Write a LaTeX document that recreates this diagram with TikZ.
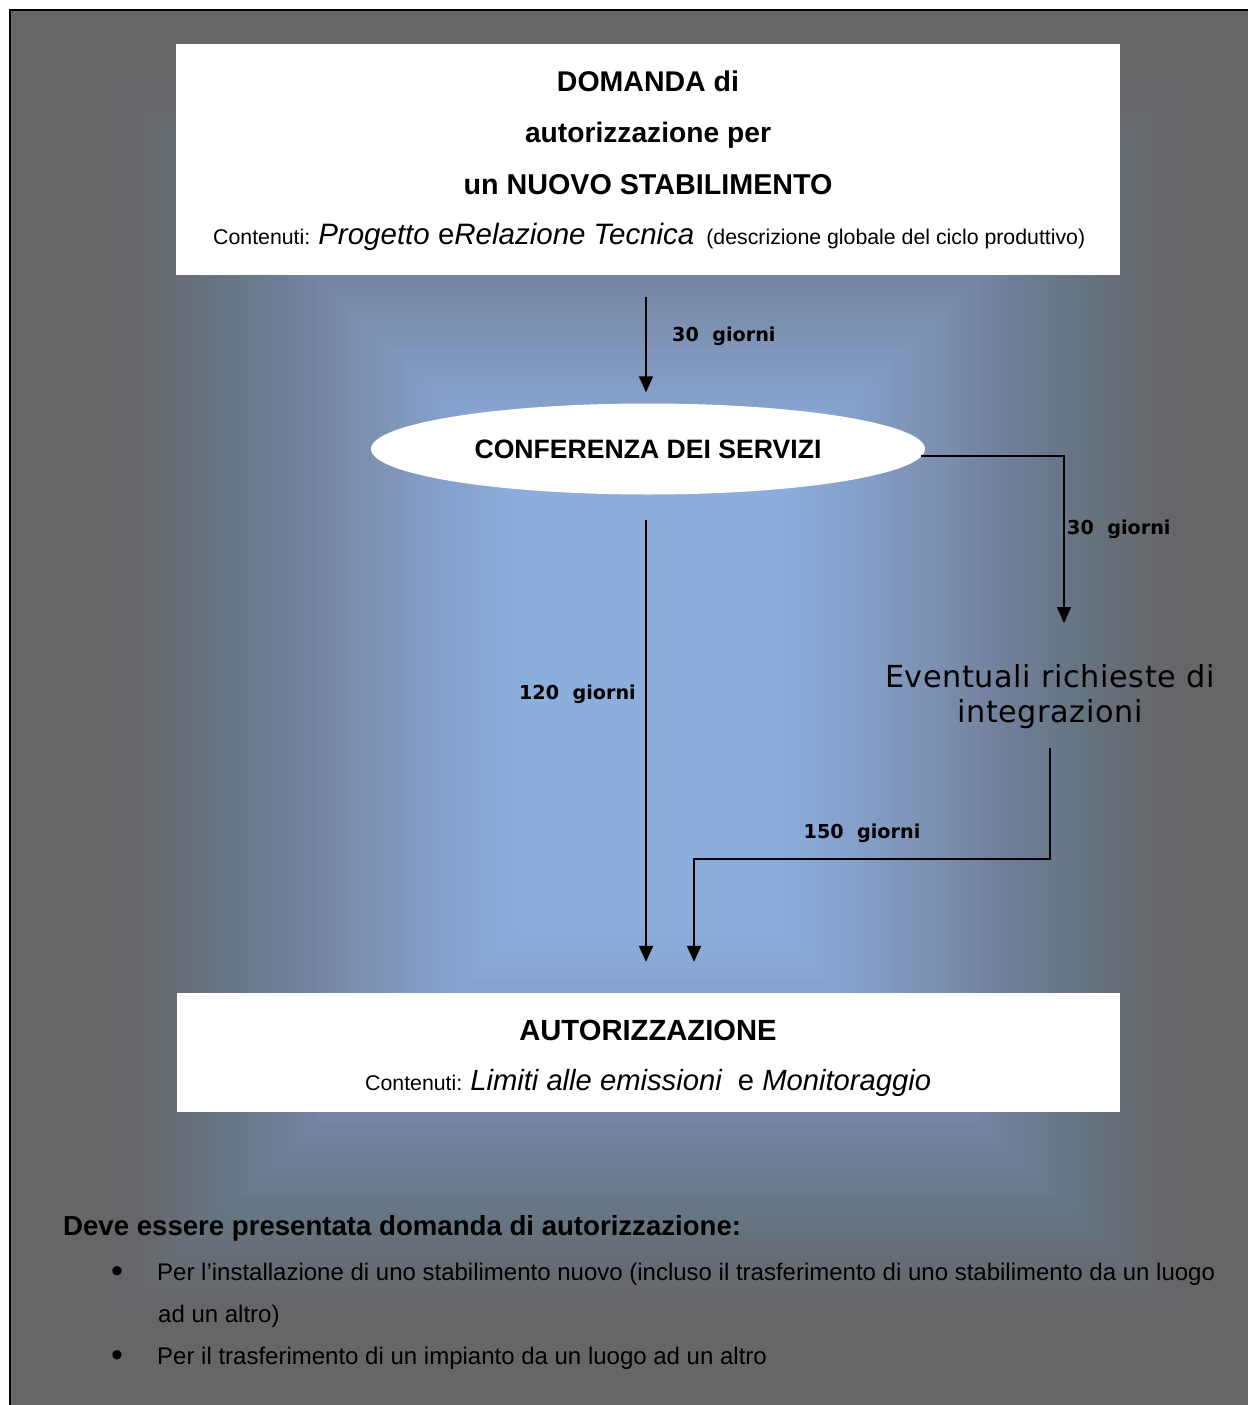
\documentclass[tikz,border=0pt]{standalone}
\usepackage{fontspec}
\setmainfont{Liberation Sans}
\newfontfamily\verd{DejaVu Sans}
\newfontfamily\verdwide[LetterSpace=2]{DejaVu Sans}
\usetikzlibrary{arrows.meta,shapes.geometric}

\definecolor{bggray}{HTML}{666666}
\definecolor{glow}{HTML}{8CAEDC}

\tikzset{
  whitebox/.style={rectangle, fill=white, draw=none, inner sep=0pt},
  conn/.style={line width=1.8pt, draw=black},
  arr/.style={conn, -{Triangle[width=14pt,length=16pt]}},
  daylabel/.style={inner sep=0pt, font=\verd\bfseries\fontsize{19.2}{23}\selectfont},
  txt/.style={inner sep=0pt, anchor=base},
}
\newcommand{\smalltxt}{\fontsize{21.3}{25}\selectfont\upshape}
\newcommand{\bigital}{\fontsize{29.5}{34}\selectfont\itshape}
\newcommand{\bigup}{\fontsize{29.5}{34}\selectfont\upshape}

\begin{document}
\begin{tikzpicture}[x=1pt,y=-1pt]
\useasboundingbox (0,0) rectangle (1248,1405);
\fill[white] (0,0) rectangle (1248,1405);
\fill[bggray] (10,10) rectangle (1248,1405);

% soft blue glow behind the flow chart (rectangular gradient, smoothstep profile)
\def\N{80}
\begin{scope}
  \clip (10,10) rectangle (1248,1405);
  \foreach \k in {0,...,79}{
    \pgfmathsetmacro\ta{\k/\N}
    \pgfmathsetmacro\tb{(\k+1)/\N}
    \pgfmathsetmacro\Aa{\ta*\ta*(3-2*\ta)}
    \pgfmathsetmacro\Ab{\tb*\tb*(3-2*\tb)}
    \pgfmathsetmacro\op{(\Ab-\Aa)/(1-\Aa)}
    \pgfmathsetmacro\hw{120+500*(1-\ta)}
    \pgfmathsetmacro\hh{220+480*(1-\ta)}
    \fill[glow, opacity=\op] ({648-\hw},{700-\hh}) rectangle ({648+\hw},{700+\hh});
  }
\end{scope}

% frame
\draw[line width=2.5pt] (10,1405) -- (10,10) -- (1248,10);

% application box
\node[whitebox, minimum width=944, minimum height=231] (domanda) at (648,159.5) {};
\node[txt, font=\bfseries\fontsize{28.5}{34}\selectfont] at (648,91) {DOMANDA di};
\node[txt, font=\bfseries\fontsize{28.2}{34}\selectfont] at (648,142.5) {autorizzazione per};
\node[txt, font=\bfseries\fontsize{28.7}{34}\selectfont] at (648,194) {un NUOVO STABILIMENTO};
\node[txt, anchor=base west] at (213,244) {\smalltxt Contenuti:\hspace{8pt}\bigital Progetto \bigup e\bigital Relazione Tecnica\hspace{12pt}\smalltxt(descrizione globale del ciclo produttivo)};

% conference
\node[ellipse, fill=white, draw=none, inner sep=0pt, minimum width=554, minimum height=91,
      font=\bfseries\fontsize{26.6}{32}\selectfont] (conf) at (648,449) {CONFERENZA DEI SERVIZI};

% possible requests
\node[inner sep=0pt, anchor=north, align=center, font=\verdwide\fontsize{30.3}{35}\selectfont] (integr) at (1050,664)
  {Eventuali richieste di\\integrazioni};

% authorisation box
\node[whitebox, minimum width=943, minimum height=119] (autor) at (648.5,1052.5) {};
\node[txt, font=\bfseries\fontsize{29.2}{34}\selectfont] at (648,1040) {AUTORIZZAZIONE};
\node[txt, anchor=base west] at (365,1090) {\smalltxt Contenuti:\hspace{8pt}\fontsize{29.2}{34}\selectfont\itshape Limiti alle emissioni\hspace{8pt} \upshape e \itshape Monitoraggio};

% connectors
\draw[arr, shorten <=22pt, shorten >=11pt] ([xshift=-2pt]domanda.south) -- ([xshift=-2pt]conf.north);
\node[daylabel, anchor=base west] at (672,341) {30\ \ giorni};

\draw[arr] ([xshift=-4pt,yshift=-7pt]conf.east) -| ([xshift=14pt,yshift=41pt]integr.north);
\node[daylabel, anchor=base west] at (1067,534) {30\ \ giorni};

\draw[arr, shorten <=25pt, shorten >=31pt] ([xshift=-2pt]conf.south) -- ([xshift=-2.5pt]autor.north);
\node[daylabel, anchor=base east] at (636,699) {120\ \ giorni};

\coordinate (bend) at (694,859);
\draw[arr, shorten >=31pt] ([yshift=-19pt]integr.south) |- (bend) -- (bend |- autor.north);
\node[daylabel, anchor=base] at (862,838) {150\ \ giorni};

% notes below
\node[txt, anchor=base west, font=\bfseries\fontsize{27.6}{33}\selectfont] at (63,1235) {Deve essere presentata domanda di autorizzazione:};
\begin{scope}[font=\fontsize{24}{29}\selectfont]
  \node[txt, font=\fontsize{34}{34}\selectfont] at (117,1282) {•};
  \node[txt, anchor=base west] at (157,1280) {Per l’installazione di uno stabilimento nuovo (incluso il trasferimento di uno stabilimento da un luogo};
  \node[txt, anchor=base west] at (158,1322) {ad un altro)};
  \node[txt, font=\fontsize{34}{34}\selectfont] at (117,1366) {•};
  \node[txt, anchor=base west] at (157,1364) {Per il trasferimento di un impianto da un luogo ad un altro};
\end{scope}
\end{tikzpicture}
\end{document}
